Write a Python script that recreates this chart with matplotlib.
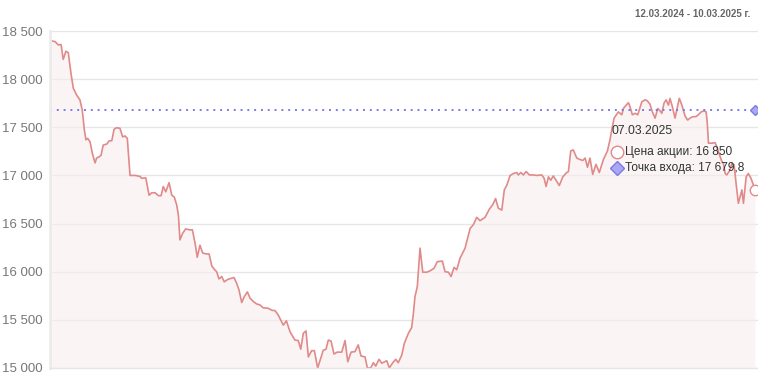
import matplotlib
matplotlib.use("Agg")
import matplotlib.pyplot as plt
import numpy as np

# days since 12.03.2024 and closing price
days = [
    0, 2.6, 4.3, 5.7, 6.8, 8.2, 9.4, 10.8, 12.0, 13.7,
    15.4, 16.6, 17.7, 18.5, 19.4, 20.6, 21.8, 23.2, 24.0, 25.4,
    26.3, 27.4, 29.2, 30.5, 31.8, 33.0, 34.3, 36.0, 37.4, 38.6,
    39.8, 41.2, 43.8, 46.3, 47.2, 49.3, 51.0, 52.4, 54.1, 55.8,
    57.2, 58.3, 59.6, 61.3, 62.7, 64.0, 65.2, 66.1, 66.9, 68.3,
    69.9, 71.7, 73.3, 74.7, 75.8, 77.2, 78.6, 80.3, 81.9, 83.3,
    84.6, 85.8, 87.0, 88.4, 89.7, 91.5, 93.2, 94.7, 96.1, 97.3,
    98.7, 100.0, 101.6, 103.0, 104.7, 106.4, 108.1, 109.8, 112.4, 114.2,
    115.9, 117.5, 120.1, 121.7, 123.6, 126.1, 127.8, 129.1, 130.4, 131.8,
    133.0, 134.7, 136.1, 137.8, 139.4, 140.7, 142.1, 143.3, 144.7, 146.2,
    147.9, 150.2, 151.9, 153.3, 155.0, 157.0, 158.7, 160.1, 162.2, 163.4,
    165.1, 166.5, 167.7, 169.4, 170.8, 173.4, 174.7, 176.5, 178.0, 179.3,
    181.1, 182.4, 184.5, 186.2, 187.1, 187.9, 189.1, 190.5, 191.9, 194.0,
    195.7, 197.7, 199.4, 202.0, 203.4, 205.1, 206.5, 208.0, 209.4, 211.1,
    213.7, 216.3, 218.0, 219.7, 221.4, 224.0, 226.2, 227.9, 229.4, 230.8,
    232.6, 233.9, 235.2, 236.9, 238.6, 240.3, 241.1, 242.4, 243.7, 245.1,
    246.8, 248.8, 250.6, 253.2, 254.4, 255.4, 256.6, 257.8, 259.1, 260.5,
    262.2, 264.0, 266.0, 266.9, 268.1, 269.4, 271.2, 272.9, 274.3, 275.5,
    276.7, 278.0, 279.4, 281.1, 282.8, 284.9, 287.0, 288.3, 289.2, 290.4,
    292.6, 294.4, 295.2, 296.6, 297.8, 298.6, 299.8, 301.2, 302.6, 304.7,
    306.4, 307.5, 308.9, 310.1, 311.5, 312.9, 314.1, 315.0, 316.1, 317.2,
    318.4, 319.2, 320.4, 321.8, 323.2, 324.0, 325.3, 327.0, 328.3, 329.5,
    330.9, 332.5, 333.8, 335.2, 336.7, 337.8, 338.4, 339.0, 340.7, 342.4,
    343.6, 345.0, 345.9, 346.7, 347.6, 348.4, 350.1, 351.0, 352.2, 353.2,
    354.4, 356.2, 357.0, 358.4, 359.5, 360.9, 363.0,
]
prices = [
    18400, 18390, 18355, 18360, 18205, 18290, 18275, 18060, 17905, 17835,
    17785, 17680, 17470, 17370, 17385, 17350, 17230, 17130, 17180, 17195,
    17210, 17315, 17325, 17360, 17360, 17480, 17495, 17490, 17400, 17410,
    17385, 17000, 17000, 16990, 16970, 16975, 16795, 16820, 16820, 16790,
    16790, 16885, 16830, 16925, 16795, 16775, 16695, 16590, 16330, 16400,
    16445, 16435, 16435, 16295, 16150, 16275, 16195, 16185, 16185, 16060,
    16025, 16000, 15925, 15950, 15895, 15920, 15930, 15940, 15880, 15810,
    15680, 15740, 15790, 15725, 15690, 15665, 15655, 15625, 15620, 15600,
    15595, 15550, 15445, 15490, 15375, 15290, 15285, 15195, 15360, 15385,
    15115, 15180, 15180, 15000, 15100, 15185, 15195, 15290, 15280, 15145,
    15165, 15165, 15285, 15065, 15165, 15170, 15240, 15125, 15115, 15000,
    15000, 15055, 15020, 15090, 15050, 15075, 15000, 15055, 15090, 15055,
    15135, 15255, 15360, 15420, 15570, 15740, 15845, 16245, 15995, 15995,
    16010, 16035, 16105, 16110, 16000, 15995, 15950, 16045, 16020, 16140,
    16245, 16450, 16490, 16565, 16530, 16565, 16650, 16695, 16760, 16660,
    16640, 16850, 16900, 17000, 17020, 17030, 17005, 17030, 17005, 17040,
    17005, 17005, 17000, 17005, 16970, 16885, 16985, 16950, 16995, 16950,
    16895, 16985, 17030, 17040, 17255, 17265, 17180, 17165, 17155, 17180,
    17085, 17180, 17010, 17115, 17030, 17165, 17255, 17370, 17470, 17595,
    17660, 17630, 17695, 17730, 17755, 17715, 17630, 17645, 17630, 17765,
    17785, 17775, 17740, 17660, 17595, 17695, 17670, 17645, 17750, 17785,
    17730, 17800, 17715, 17595, 17730, 17800, 17730, 17615, 17575, 17595,
    17610, 17610, 17630, 17660, 17670, 17660, 17540, 17335, 17335, 17340,
    17280, 17195, 17145, 17125, 17020, 17005, 17055, 17125, 17110, 16920,
    16710, 16850, 16710, 16985, 17020, 16970, 16850,
]
entry_price = 17679.8
y_ticks = [15000, 15500, 16000, 16500, 17000, 17500, 18000, 18500]
period_label = "12.03.2024 - 10.03.2025 г."
hover_date = "07.03.2025"

line_color = "#e08a8a"
entry_color = "#7b7be6"

plt.rcParams['font.family'] = ['Liberation Sans', 'DejaVu Sans']

W, H = 758, 379
fig = plt.figure(figsize=(W / 100, H / 100), dpi=100)
ax = fig.add_axes([50 / W, 11 / H, 708 / W, 337 / H])

ax.fill_between(days, prices, y_ticks[0], color="#f9eeee", alpha=0.6, lw=0)
ax.plot(days, prices, color=line_color, lw=1.2)
ax.axhline(entry_price, color=entry_color, lw=1.4, ls=(0, (1, 2.5)))

ax.plot(days[-1], entry_price, marker="D", ms=5.5, mfc="#a9a9f2", mec=entry_color,
        mew=1, clip_on=False, zorder=5)
ax.plot(days[-1], prices[-1], marker="o", ms=7.5, mfc="white", mec=line_color,
        mew=1, clip_on=False, zorder=5)

ax.set_xlim(0, 364.5)
ax.set_ylim(y_ticks[0], y_ticks[-1])
ax.set_yticks(y_ticks)
ax.set_yticklabels([f"{v:,}".replace(",", " ") for v in y_ticks])
ax.set_xticks([])
ax.grid(axis="y", color="#e6e6e6", lw=1)
ax.set_axisbelow(True)
for s in ["top", "right"]:
    ax.spines[s].set_visible(False)
ax.spines["left"].set_color("#ececec")
ax.spines["left"].set_linewidth(2)
ax.spines["bottom"].set_color("#e6e6e6")
ax.spines["bottom"].set_linewidth(1)
ax.tick_params(axis="y", length=0, pad=5, labelsize=9.5, labelcolor="#777777")

# period in the top right corner
fig.text(750 / W, 1 - 14 / H, period_label, ha="right", va="center",
         fontsize=7, color="#666666", fontweight="bold")

# hover tooltip
fig.text(611 / W, 1 - 131 / H, hover_date, ha="left", va="center",
         fontsize=8.7, color="#333333")
fig.text(625 / W, 1 - 152 / H, "Цена акции: " + f"{prices[-1]:,}".replace(",", " "),
         ha="left", va="center", fontsize=8.6, color="#333333")
fig.text(625 / W, 1 - 168 / H,
         "Точка входа: " + f"{entry_price:,.1f}".replace(",", " ").replace(".", ","),
         ha="left", va="center", fontsize=8.6, color="#333333")
fig.lines.append(plt.Line2D([617 / W], [1 - 152 / H], transform=fig.transFigure,
                            marker="o", ms=9, mfc="white", mec=line_color, mew=1))
fig.lines.append(plt.Line2D([617 / W], [1 - 168 / H], transform=fig.transFigure,
                            marker="D", ms=7, mfc="#a9a9f2", mec=entry_color, mew=1))

fig.savefig("out.png", dpi=100)
